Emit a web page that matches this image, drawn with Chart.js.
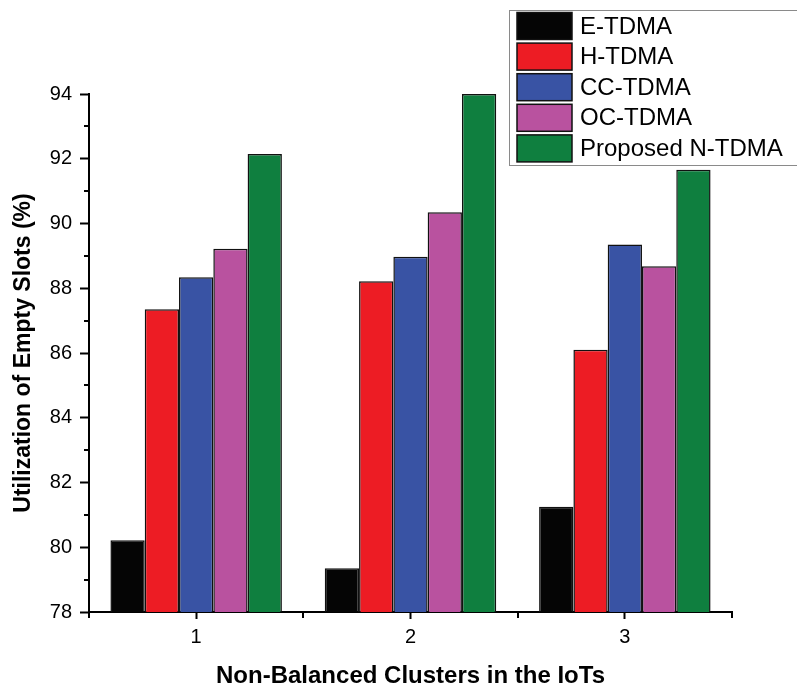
<!DOCTYPE html>
<html>
<head>
<meta charset="utf-8">
<script src="https://cdn.jsdelivr.net/npm/chart.js@4.4.1/dist/chart.umd.min.js"></script>
<style>
html,body{margin:0;padding:0;background:#fff;}
#wrap{width:797px;height:691px;position:relative;}
</style>
</head>
<body>
<div id="wrap"><canvas id="c" width="797" height="691"></canvas></div>
<script>
const categories = ['1', '2', '3'];
const seriesNames = ['E-TDMA', 'H-TDMA', 'CC-TDMA', 'OC-TDMA', 'Proposed N-TDMA'];
const eTDMA = [80.22, 79.35, 81.25];
const hTDMA = [87.35, 88.22, 86.10];
const ccTDMA = [88.34, 88.97, 89.35];
const ocTDMA = [89.22, 90.35, 88.68];
const nTDMA = [92.15, 94.0, 91.66];
const seriesColors = ['#050505', '#ED1C24', '#3953A4', '#B9529F', '#0F7F3F'];
const yMin = 78, yMax = 94, yStep = 2;
const xTitle = 'Non-Balanced Clusters in the IoTs';
const yTitle = 'Utilization of Empty Slots (%)';

const FONT = "'Liberation Sans', Arial, sans-serif";
const allSeries = [eTDMA, hTDMA, ccTDMA, ocTDMA, nTDMA];

const minorTicks = {
  id: 'minorTicks',
  afterDraw(chart) {
    const ctx = chart.ctx;
    const x = chart.scales.x, y = chart.scales.y;
    ctx.save();
    ctx.strokeStyle = '#000';
    ctx.lineWidth = 2;
    for (let v = yMin + 1; v < yMax; v += yStep) {
      const py = Math.round(y.getPixelForValue(v));
      ctx.beginPath();
      ctx.moveTo(x.left - 5, py);
      ctx.lineTo(x.left, py);
      ctx.stroke();
    }
    for (let i = 0; i <= categories.length; i++) {
      const px = Math.round(x.getPixelForValue(i - 0.5));
      ctx.beginPath();
      ctx.moveTo(px, y.bottom);
      ctx.lineTo(px, y.bottom + 6);
      ctx.stroke();
    }
    ctx.restore();
  }
};

const customLegend = {
  id: 'customLegend',
  afterDraw(chart) {
    const ctx = chart.ctx;
    const ds = chart.data.datasets;
    const left = 509, top = 10, rowH = 30.6;
    ctx.save();
    ctx.fillStyle = '#fff';
    ctx.fillRect(left, top, 800 - left, rowH * ds.length + 2);
    ctx.strokeStyle = '#8a8a8a';
    ctx.lineWidth = 1;
    ctx.strokeRect(left + 0.5, top + 0.5, 800 - left, rowH * ds.length + 2);
    ctx.font = '24px ' + FONT;
    ctx.textBaseline = 'middle';
    ds.forEach((d, i) => {
      const ry = top + 2.5 + i * rowH;
      ctx.fillStyle = d.backgroundColor;
      ctx.fillRect(517, ry, 55, 27);
      ctx.strokeStyle = '#111';
      ctx.lineWidth = 1.5;
      ctx.strokeRect(517, ry, 55, 27);
      ctx.fillStyle = '#000';
      ctx.fillText(d.label, 580, ry + 14.5);
    });
    ctx.restore();
  }
};

new Chart(document.getElementById('c'), {
  type: 'bar',
  data: {
    labels: categories,
    datasets: seriesNames.map((n, i) => ({
      label: n,
      data: allSeries[i],
      backgroundColor: seriesColors[i],
      borderColor: '#111',
      borderWidth: 1.5,
      categoryPercentage: 0.8,
      barPercentage: 1.0
    }))
  },
  options: {
    responsive: false,
    animation: false,
    events: [],
    layout: { padding: { left: 0, right: 65, top: 94, bottom: 0 } },
    plugins: { legend: { display: false }, tooltip: { enabled: false } },
    scales: {
      x: {
        type: 'category',
        offset: true,
        grid: { offset: false, drawOnChartArea: false, drawTicks: true, tickLength: 7, tickWidth: 2, tickColor: '#000' },
        border: { display: true, color: '#000', width: 2 },
        ticks: { color: '#000', font: { family: FONT, size: 20 }, padding: 6, maxRotation: 0 },
        title: { display: true, text: xTitle, color: '#000', font: { family: FONT, size: 24, weight: 'bold' }, padding: { top: 0, bottom: 0 } },
        afterFit(s) { s.height = 79; }
      },
      y: {
        min: yMin, max: yMax,
        ticks: { stepSize: yStep, color: '#000', font: { family: FONT, size: 20 }, padding: 8 },
        grid: { drawOnChartArea: false, drawTicks: true, tickLength: 9, tickWidth: 2, tickColor: '#000' },
        border: { display: true, color: '#000', width: 2 },
        title: { display: true, text: yTitle, color: '#000', font: { family: FONT, size: 23, weight: 'bold' }, padding: { top: 10, bottom: 0 } },
        afterFit(s) { s.width = 89; }
      }
    }
  },
  plugins: [minorTicks, customLegend]
});
</script>
</body>
</html>
